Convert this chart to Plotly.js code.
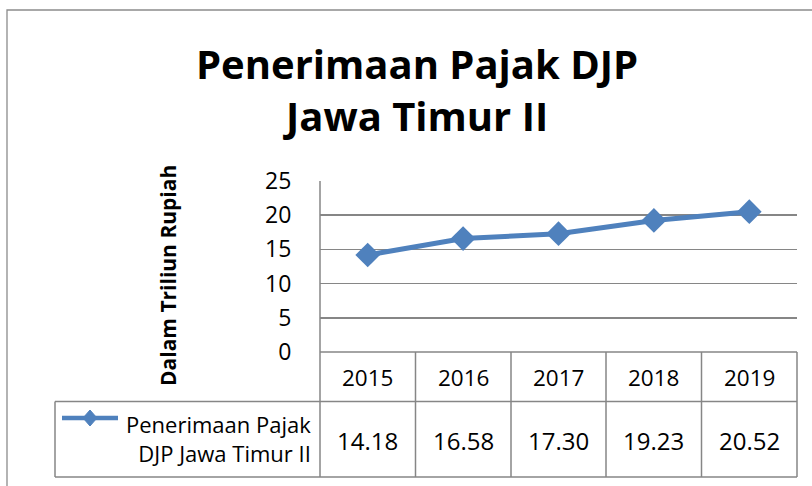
<!DOCTYPE html>
<html>
<head>
<meta charset="utf-8">
<script src="https://cdn.plot.ly/plotly-3.0.1.min.js"></script>
<style>html,body{margin:0;padding:0;background:#fff;}#chart{width:812px;height:486px;}</style>
</head>
<body>
<div id="chart"></div>
<script>
const years = ['2015', '2016', '2017', '2018', '2019'];
const values = [14.18, 16.58, 17.30, 19.23, 20.52];
const valueLabels = ['14.18', '16.58', '17.30', '19.23', '20.52'];
const seriesName = 'Penerimaan Pajak DJP Jawa Timur II';
const yTicks = [0, 5, 10, 15, 20, 25];

const W = 812, H = 486;
const L = 320, R = 797, T = 181, B = 352; // plot area in px
const px = x => (x - L) / (R - L);
const py = y => (B - y) / (B - T);
const blue = '#4F81BD';
const grid = '#868686';
const font = 'Open Sans, Noto Sans, sans-serif';

const shapes = [];
const annotations = [];

// outer chart border
shapes.push({type: 'rect', xref: 'paper', yref: 'paper', x0: px(7), x1: px(840), y0: py(10), y1: py(520),
  line: {color: '#8c8c8c', width: 1.3}, fillcolor: 'rgba(0,0,0,0)', layer: 'below'});

// data table lines
const colEdges = [320, 415.5, 511, 606, 701.5, 797];
shapes.push({type: 'line', xref: 'paper', yref: 'paper', x0: px(320), x1: px(797), y0: py(352), y1: py(352), line: {color: grid, width: 1.5}});
shapes.push({type: 'line', xref: 'paper', yref: 'paper', x0: px(55), x1: px(797), y0: py(401.5), y1: py(401.5), line: {color: grid, width: 1.5}});
shapes.push({type: 'line', xref: 'paper', yref: 'paper', x0: px(55), x1: px(797), y0: py(477), y1: py(477), line: {color: grid, width: 1.5}});
shapes.push({type: 'line', xref: 'paper', yref: 'paper', x0: px(55), x1: px(55), y0: py(401.5), y1: py(477), line: {color: grid, width: 1.5}});
colEdges.forEach((cx, i) => {
  shapes.push({type: 'line', xref: 'paper', yref: 'paper', x0: px(cx), x1: px(cx), y0: py(i === 0 ? 181 : 352), y1: py(477), line: {color: grid, width: 1.5}});
});

// legend key: line + diamond
shapes.push({type: 'line', xref: 'paper', yref: 'paper', x0: px(62), x1: px(118), y0: py(418), y1: py(418), line: {color: blue, width: 4.5}});
shapes.push({type: 'path', xref: 'paper', yref: 'paper',
  path: `M ${px(90)} ${py(410)} L ${px(97)} ${py(418)} L ${px(90)} ${py(426)} L ${px(83)} ${py(418)} Z`,
  fillcolor: blue, line: {color: blue, width: 1}});

// table texts
years.forEach((yr, i) => {
  const cx = (colEdges[i] + colEdges[i + 1]) / 2;
  annotations.push({xref: 'paper', yref: 'paper', x: px(cx), y: py(377), text: yr, showarrow: false,
    xanchor: 'center', yanchor: 'middle', font: {family: font, size: 22.5, color: '#000'}});
  annotations.push({xref: 'paper', yref: 'paper', x: px(cx), y: py(440), text: valueLabels[i], showarrow: false,
    xanchor: 'center', yanchor: 'middle', font: {family: font, size: 24, color: '#000'}});
});
annotations.push({xref: 'paper', yref: 'paper', x: px(313), y: py(438), text: 'Penerimaan Pajak<br>DJP Jawa Timur II',
  showarrow: false, xanchor: 'right', yanchor: 'middle', align: 'right',
  font: {family: font, size: 22, color: '#000'}});

// title
annotations.push({xref: 'paper', yref: 'paper', x: px(417), y: py(89), text: '<b>Penerimaan Pajak DJP<br>Jawa Timur II</b>',
  showarrow: false, xanchor: 'center', yanchor: 'middle', align: 'center',
  font: {family: font, size: 40, color: '#000'}});

// y-axis title
annotations.push({xref: 'paper', yref: 'paper', x: px(168), y: py(276), text: '<b>Dalam Triliun Rupiah</b>',
  showarrow: false, textangle: -90, xanchor: 'center', yanchor: 'middle',
  font: {family: font, size: 21, color: '#000'}});

const trace = {
  type: 'scatter', mode: 'lines+markers', x: years, y: values, name: seriesName,
  line: {color: blue, width: 5},
  marker: {symbol: 'diamond', size: 19, color: blue},
  hoverinfo: 'x+y', cliponaxis: false
};

const layout = {
  width: W, height: H,
  margin: {l: L, r: W - R, t: T, b: H - B, pad: 0},
  paper_bgcolor: '#fff', plot_bgcolor: '#fff',
  showlegend: false,
  font: {family: font},
  xaxis: {type: 'category', range: [-0.5, 4.5], showticklabels: false, showgrid: false, zeroline: false,
    showline: false, ticks: ''},
  yaxis: {range: [0, 25], tickvals: yTicks, ticktext: yTicks.map(String), showgrid: true, gridcolor: grid, gridwidth: 1.5,
    zeroline: false, showline: false, ticks: 'outside', ticklen: 0, ticklabelstandoff: 23,
    tickfont: {family: font, size: 23, color: '#000'}},
  shapes: shapes,
  annotations: annotations
};

Plotly.newPlot('chart', [trace], layout, {displayModeBar: false, staticPlot: true});
</script>
</body>
</html>
